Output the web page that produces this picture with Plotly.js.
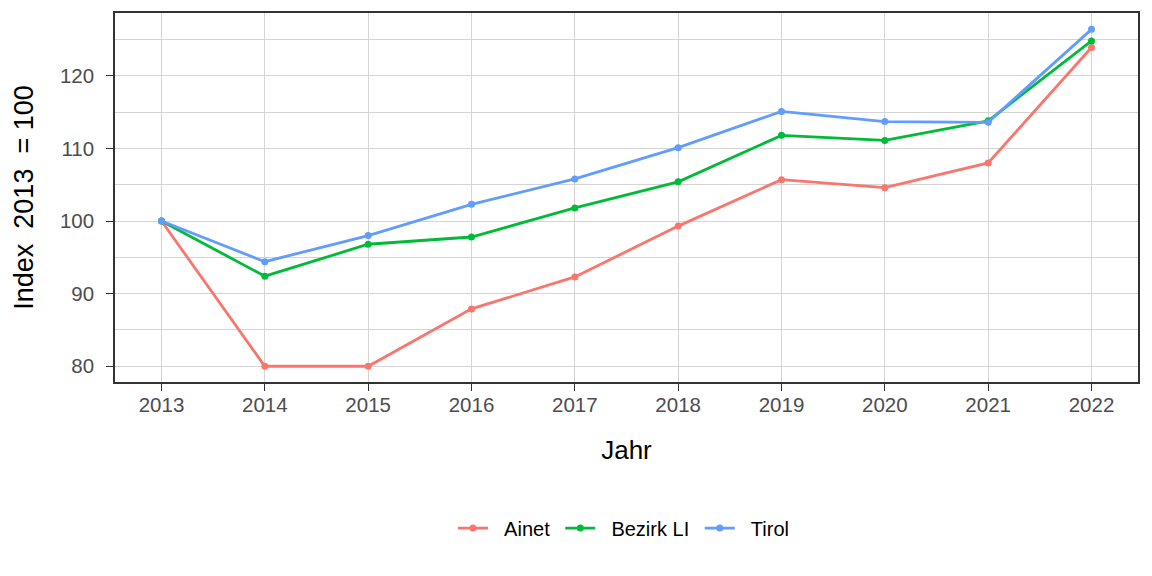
<!DOCTYPE html>
<html>
<head>
<meta charset="utf-8">
<script src="https://cdn.plot.ly/plotly-3.0.1.min.js"></script>
<style>
  body { margin: 0; background: #fff; }
  #plot { width: 1152px; height: 576px; }
</style>
</head>
<body>
<div id="plot"></div>
<script>
var years = [2013, 2014, 2015, 2016, 2017, 2018, 2019, 2020, 2021, 2022];
var ainet = [100, 80, 80, 87.9, 92.3, 99.3, 105.7, 104.6, 108.0, 123.9];
var bezirk = [100, 92.4, 96.8, 97.8, 101.8, 105.4, 111.8, 111.1, 113.8, 124.8];
var tirol = [100, 94.4, 98.0, 102.3, 105.8, 110.1, 115.1, 113.7, 113.6, 126.4];

var names = ['Ainet', 'Bezirk LI', 'Tirol'];
var colors = ['#F8766D', '#00BA38', '#619CFF'];
var series = [ainet, bezirk, tirol];

var data = [];
for (var i = 0; i < series.length; i++) {
    data.push({
        x: years,
        y: series[i],
        type: 'scatter',
        mode: 'lines+markers',
        name: '\u00a0\u00a0' + names[i] + '\u00a0',
        line: { color: colors[i], width: 2.8 },
        marker: { color: colors[i], size: 7 }
    });
}

var gridCol = '#d4d4d4';

var layout = {
    width: 1152,
    height: 576,
    margin: { l: 115, r: 14, t: 13, b: 194 },
    paper_bgcolor: '#fff',
    plot_bgcolor: '#fff',
    font: { family: 'Liberation Sans, Arial, sans-serif', size: 20, color: '#4d4d4d' },
    showlegend: true,
    legend: {
        orientation: 'h',
        x: 0.5, xanchor: 'center',
        y: -0.396, yanchor: 'middle',
        font: { size: 20, color: '#000' }
    },
    xaxis: {
        range: [2012.55, 2022.45],
        tickvals: years,
        ticktext: years.map(String),
        showgrid: true,
        gridcolor: gridCol,
        gridwidth: 1,
        zeroline: false,
        showline: true,
        linecolor: '#333',
        linewidth: 1.5,
        mirror: true,
        ticks: 'outside',
        ticklen: 7,
        tickcolor: '#333',
        tickfont: { size: 20.5, color: '#4d4d4d' },
        ticklabelstandoff: -3,
        title: { text: 'Jahr', font: { size: 26, color: '#000' }, standoff: 25 }
    },
    yaxis: {
        range: [77.83, 128.65],
        tick0: 80,
        dtick: 10,
        showgrid: true,
        gridcolor: gridCol,
        gridwidth: 1,
        zeroline: false,
        showline: true,
        linecolor: '#333',
        linewidth: 1.5,
        mirror: true,
        ticks: 'outside',
        ticklen: 7,
        tickcolor: '#333',
        tickfont: { size: 20.5, color: '#4d4d4d' },
        ticklabelstandoff: 8,
        minor: { dtick: 5, tick0: 75, showgrid: true, gridcolor: gridCol, gridwidth: 1, ticks: '' },
        title: { text: 'Index\u00a0 2013\u00a0 = 100', font: { size: 27, color: '#000' }, standoff: 18 }
    }
};

Plotly.newPlot('plot', data, layout, { displayModeBar: false });
</script>
</body>
</html>
